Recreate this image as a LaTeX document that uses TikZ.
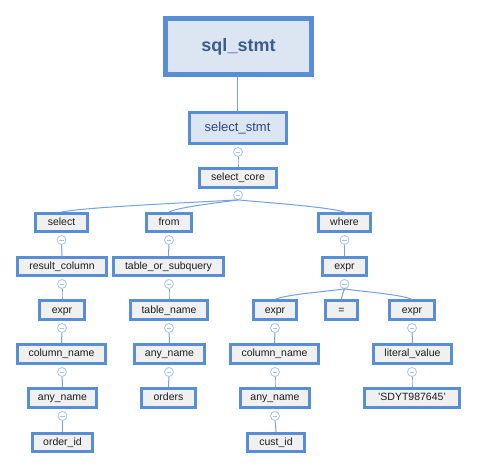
\documentclass[tikz,border=0pt]{standalone}
\usepackage{fontspec}
\setmainfont{Liberation Sans}
\usetikzlibrary{calc}
\definecolor{bordc}{RGB}{88,142,212}
\definecolor{boxg}{RGB}{240,240,240}
\definecolor{boxb}{RGB}{220,230,243}
\definecolor{txtb}{RGB}{58,92,142}
\definecolor{txtb2}{RGB}{46,72,116}
\definecolor{txt}{RGB}{28,28,28}
\definecolor{edgec}{RGB}{118,160,222}
\definecolor{circc}{RGB}{168,195,235}
\tikzset{
  box/.style={draw=bordc, fill=boxg, line width=3pt, inner sep=0pt, text=txt,
    font=\fontsize{10.5}{12}\selectfont, text height=7.6pt, text depth=2.2pt},
  topbox/.style={draw=bordc, fill=boxb, line width=5pt, inner sep=0pt, text=txtb,
    font=\fontsize{18}{20}\selectfont\bfseries},
  midbox/.style={draw=bordc, fill=boxb, line width=3pt, inner sep=0pt, text=txtb2,
    font=\fontsize{13}{15}\selectfont},
  knob/.style={circle, draw=circc, fill=white, line width=0.8pt, minimum size=9pt, inner sep=0pt,
    path picture={\draw[circc, line width=0.7pt] ($(path picture bounding box.center)+(-2.3pt,0)$) -- ($(path picture bounding box.center)+(2.3pt,0)$);}},
  edge/.style={draw=edgec, line width=1pt},
}
\newcommand\conn[2]{\draw[edge] let \p1=(#1.south), \p2=(#2.north) in (\p1) .. controls ({\x1+0.3*(\x2-\x1)},{\y1-3pt}) and ({\x2+0.15*(\x1-\x2)},{\y2+5pt}) .. (\p2);}
\begin{document}
\begin{tikzpicture}[x=1pt,y=-1pt]
\useasboundingbox[fill=white] (0,0) rectangle (477,470);
% nodes
\node[topbox, minimum width=146, minimum height=56] (sql) at (238.5,46.5) {sql\_stmt};
\node[midbox, minimum width=97, minimum height=31] (sstmt) at (237.5,128) {select\_stmt};
\node[box, minimum width=77, minimum height=19] (core) at (238,178) {select\_core};
% row1
\node[box, minimum width=52, minimum height=18] (sel) at (61.5,222.5) {select};
\node[box, minimum width=45, minimum height=18] (from) at (169,222.5) {from};
\node[box, minimum width=52, minimum height=18] (where) at (344.5,222.5) {where};
% row2
\node[box, minimum width=89, minimum height=18] (rc) at (62,266.5) {result\_column};
\node[box, minimum width=110, minimum height=18] (ts) at (168.5,266.5) {table\_or\_subquery};
\node[box, minimum width=44, minimum height=18] (exw) at (344.5,266.5) {expr};
% row3
\node[box, minimum width=45, minimum height=19] (exl) at (62,310.5) {expr};
\node[box, minimum width=77, minimum height=19] (tn) at (169,310.5) {table\_name};
\node[box, minimum width=43, minimum height=19] (exa) at (275,310.5) {expr};
\node[box, minimum width=32, minimum height=19] (eq) at (341.5,310.5) {=};
\node[box, minimum width=45, minimum height=19] (exb) at (412,310.5) {expr};
% row4
\node[box, minimum width=88, minimum height=19] (cn) at (61.5,354) {column\_name};
\node[box, minimum width=70, minimum height=19] (an) at (169.5,354) {any\_name};
\node[box, minimum width=88, minimum height=19] (cn2) at (274.5,354) {column\_name};
\node[box, minimum width=78, minimum height=19] (lv) at (412.5,354) {literal\_value};
% row5
\node[box, minimum width=68, minimum height=19] (an1) at (62.5,398) {any\_name};
\node[box, minimum width=54, minimum height=19] (ord) at (168.5,398) {orders};
\node[box, minimum width=69, minimum height=19] (an2) at (275,398) {any\_name};
\node[box, minimum width=95, minimum height=19] (sdyt) at (412,398) {'SDYT987645'};
% row6
\node[box, minimum width=60, minimum height=18] (oid) at (62.5,442.5) {order\_id};
\node[box, minimum width=57, minimum height=18] (cid) at (276,442.5) {cust\_id};
% knobs
\node[knob] (k0) at (238,152) {};
\node[knob] (k1) at (238,195) {};
\node[knob] (ksel) at (61.5,240) {};
\node[knob] (kfrom) at (169,240) {};
\node[knob] (kwhere) at (344.5,240) {};
\node[knob] (krc) at (62,284) {};
\node[knob] (kts) at (169,284) {};
\node[knob] (kexw) at (344.5,284) {};
\node[knob] (kexl) at (62,328) {};
\node[knob] (ktn) at (169,328) {};
\node[knob] (kexa) at (275,328) {};
\node[knob] (kexb) at (412,328) {};
\node[knob] (kcn) at (62,372) {};
\node[knob] (kan) at (169,372) {};
\node[knob] (kcn2) at (275,372) {};
\node[knob] (klv) at (412,372) {};
\node[knob] (kan1) at (62.5,416) {};
\node[knob] (kan2) at (275,416) {};
% connectors
\draw[edge, line width=1.2pt] (sstmt.north |- sql.south) -- (sstmt.north);
\conn{k0}{core}
\conn{k1}{sel}
\conn{k1}{from}
\conn{k1}{where}
\conn{ksel}{rc}
\conn{kfrom}{ts}
\conn{kwhere}{exw}
\conn{krc}{exl}
\conn{kts}{tn}
\conn{kexw}{exa}
\conn{kexw}{eq}
\conn{kexw}{exb}
\conn{kexl}{cn}
\conn{ktn}{an}
\conn{kexa}{cn2}
\conn{kexb}{lv}
\conn{kcn}{an1}
\conn{kan}{ord}
\conn{kcn2}{an2}
\conn{klv}{sdyt}
\conn{kan1}{oid}
\conn{kan2}{cid}
\end{tikzpicture}
\end{document}
